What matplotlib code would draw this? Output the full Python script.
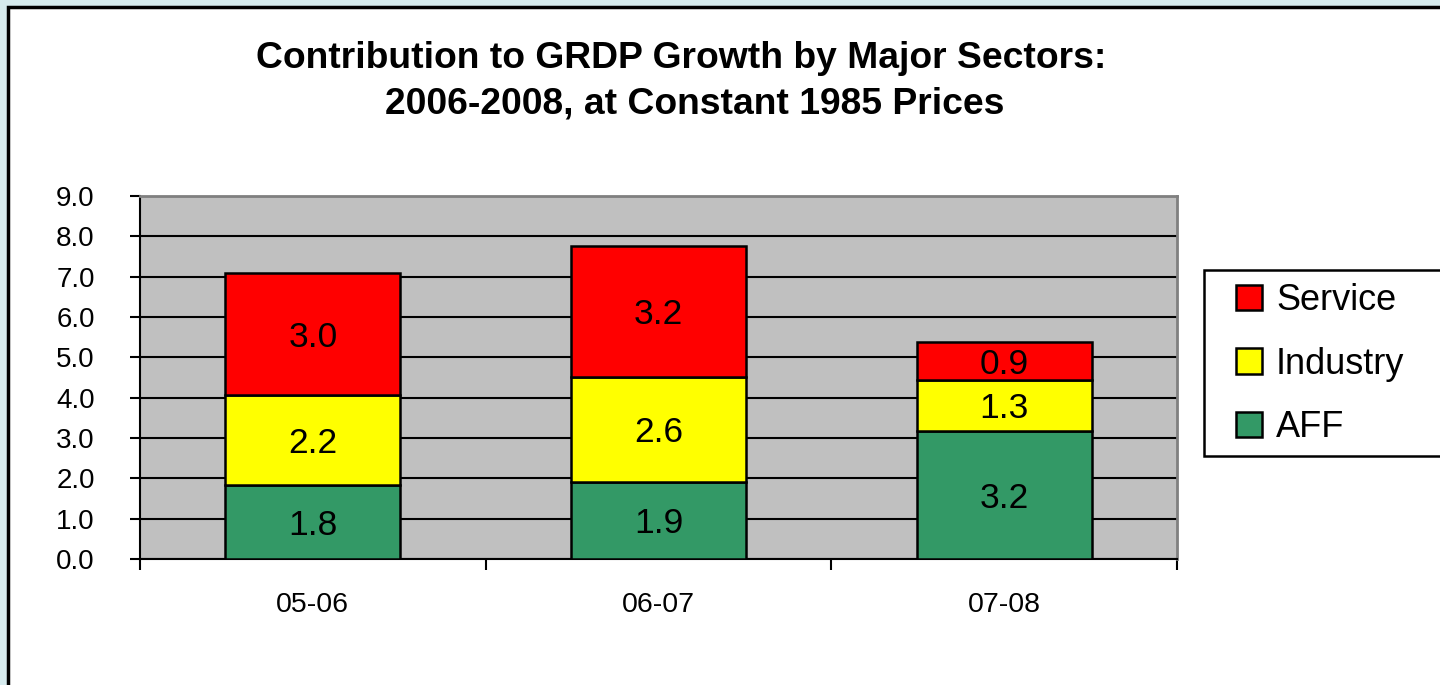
import matplotlib.pyplot as plt
from matplotlib.patches import Rectangle

plt.rcParams['font.family'] = ['Liberation Sans', 'DejaVu Sans']

periods = ['05-06', '06-07', '07-08']
aff = [1.84, 1.91, 3.18]
industry = [2.23, 2.61, 1.27]
service = [3.03, 3.25, 0.92]

sectors = ['AFF', 'Industry', 'Service']
colors = ['#339966', '#ffff00', '#ff0000']

W, H = 1440, 685
fig = plt.figure(figsize=(14.4, 6.85), dpi=100)
fig.patch.set_facecolor('#d6ebee')

# white chart area with black frame
fig.patches.append(Rectangle((8 / W, -0.1), 1.2, 1 - 7 / H + 0.1,
                             transform=fig.transFigure, facecolor='white',
                             edgecolor='black', linewidth=2.5, zorder=-1))

ax = fig.add_axes([140 / W, 1 - 559 / H, 1037 / W, 363 / H])
ax.set_facecolor('#c0c0c0')

x = range(len(periods))
bottom = [0, 0, 0]
bars = []
for name, vals, col in zip(sectors, [aff, industry, service], colors):
    b = ax.bar(x, vals, width=0.507, bottom=bottom, color=col,
               edgecolor='black', linewidth=1.8, label=name, zorder=3)
    for i, v in enumerate(vals):
        ax.text(i, bottom[i] + v / 2, f'{v:.1f}', ha='center',
                va='center_baseline', fontsize=25.5, zorder=4)
    bottom = [a + v for a, v in zip(bottom, vals)]
    bars.append(b)

ax.set_xlim(-0.5, 2.5)
ax.set_ylim(0, 9)
ax.set_yticks([i for i in range(10)])
ax.set_yticklabels([f'{i:.1f}' for i in range(10)], fontsize=20)
ax.yaxis.grid(True, color='black', linewidth=1.5, zorder=1)
ax.set_axisbelow(True)

ax.set_xticks([0, 1, 2])
ax.set_xticklabels(periods, fontsize=20.5)
ax.tick_params(axis='x', length=0, pad=24)
ax.set_xticks([-0.5, 0.5, 1.5, 2.5], minor=True)
ax.tick_params(axis='x', which='minor', length=8, width=1.5, direction='out')
ax.tick_params(axis='y', length=7.5, width=1.5, direction='out', pad=25)

for s in ['left', 'bottom']:
    ax.spines[s].set_linewidth(1.5)
    ax.spines[s].set_color('black')
for s in ['top', 'right']:
    ax.spines[s].set_linewidth(2)
    ax.spines[s].set_color('#808080')

fig.text(681 / W, 1 - 58 / H, 'Contribution to GRDP Growth by Major Sectors:',
         ha='center', va='center', fontsize=26.8, fontweight='bold')
fig.text(695 / W, 1 - 104 / H, '2006-2008, at Constant 1985 Prices',
         ha='center', va='center', fontsize=26.8, fontweight='bold')

# legend box
fig.patches.append(Rectangle((1204 / W, 1 - 456 / H), 0.3, 186 / H,
                             transform=fig.transFigure, facecolor='white',
                             edgecolor='black', linewidth=1.8, zorder=1))
leg = fig.legend(bars[::-1], sectors[::-1], loc='upper left',
                 bbox_to_anchor=(1229 / W, 1 - 276 / H), fontsize=26,
                 frameon=False, handlelength=0.7, handleheight=0.7,
                 labelspacing=0.79, handletextpad=0.4, borderpad=0.2,
                 borderaxespad=0)
leg.set_zorder(2)

fig.savefig('out.png', dpi=100, facecolor=fig.get_facecolor())
